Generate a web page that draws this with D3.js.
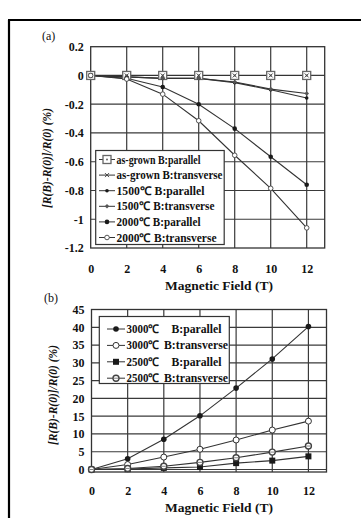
<!DOCTYPE html>
<html><head><meta charset="utf-8">
<script src="https://cdn.jsdelivr.net/npm/d3@7"></script>
<style>body{margin:0;background:#fff}svg{display:block}text{font-family:"Liberation Serif","Times New Roman",serif}</style>
</head><body><svg id="c" width="361" height="518"></svg>
<script>
const fieldValues = [0, 2, 4, 6, 8, 10, 12];
const xTickLabels = [0, 2, 4, 6, 8, 10, 12];

// Panel (a)
const seriesA = [
  {name: "as-grown B:parallel",   marker: "openSquare", values: [0, 0, 0, 0, 0, 0, 0]},
  {name: "as-grown B:transverse", marker: "cross",      values: [0, 0, 0, 0, 0, 0, 0]},
  {name: "1500\u2103   B:parallel",   marker: "smallDot",   values: [0, -0.01, -0.02, -0.02, -0.05, -0.1, -0.157]},
  {name: "1500\u2103 B:transverse", marker: "diamond",    values: [0, -0.01, -0.02, -0.02, -0.045, -0.095, -0.125]},
  {name: "2000\u2103 B:parallel",   marker: "dot",        values: [0, -0.02, -0.08, -0.2, -0.37, -0.565, -0.76]},
  {name: "2000\u2103 B:transverse", marker: "openCircle", values: [0, -0.025, -0.13, -0.315, -0.555, -0.785, -1.06]}
];
const yTicksA = [0.2, 0, -0.2, -0.4, -0.6, -0.8, -1, -1.2];

// Panel (b)
const seriesB = [
  {name1: "3000\u2103", name2: "B:parallel",   marker: "bigDot",     values: [0, 3.0, 8.5, 15.1, 22.9, 31.1, 40.2]},
  {name1: "3000\u2103", name2: "B:transverse", marker: "bigOpen",    values: [0, 1.4, 3.5, 5.7, 8.3, 11.1, 13.6]},
  {name1: "2500\u2103", name2: "B:parallel",   marker: "square",     values: [0, 0.1, 0.45, 0.7, 1.8, 2.5, 3.7]},
  {name1: "2500\u2103", name2: "B:transverse", marker: "ringOpen",   values: [0, 0.3, 0.9, 2.0, 3.3, 4.9, 6.6]}
];
const yTicksB = [45, 40, 35, 30, 25, 20, 15, 10, 5, 0];

const svg = d3.select("#c");
const INK = "#1a1a1a";
const FONT = "Liberation Serif";

svg.append("line").attr("x1", 9).attr("x2", 9).attr("y1", 20).attr("y2", 518).attr("stroke", "#000").attr("stroke-width", 2.2);
svg.append("line").attr("x1", 8).attr("x2", 361).attr("y1", 20).attr("y2", 20).attr("stroke", "#000").attr("stroke-width", 2.2);

function drawMarker(g, type, x, y) {
  switch (type) {
    case "openSquare":
      g.append("rect").attr("x", x - 4).attr("y", y - 4).attr("width", 8).attr("height", 8)
        .attr("fill", "#fff").attr("stroke", "#666").attr("stroke-width", 1.3);
      g.append("circle").attr("cx", x).attr("cy", y).attr("r", 1).attr("fill", "#666"); break;
    case "cross":
      g.append("path").attr("d", `M${x-2},${y-2}L${x+2},${y+2}M${x-2},${y+2}L${x+2},${y-2}`)
        .attr("stroke", "#444").attr("stroke-width", 1); break;
    case "smallDot":
      g.append("circle").attr("cx", x).attr("cy", y).attr("r", 1.8).attr("fill", INK); break;
    case "diamond":
      g.append("path").attr("d", `M${x},${y-2.3}L${x+2.3},${y}L${x},${y+2.3}L${x-2.3},${y}Z`).attr("fill", "#555"); break;
    case "dot":
      g.append("circle").attr("cx", x).attr("cy", y).attr("r", 2.3).attr("fill", INK); break;
    case "openCircle":
      g.append("circle").attr("cx", x).attr("cy", y).attr("r", 2.3).attr("fill", "#fff").attr("stroke", "#444").attr("stroke-width", 0.9); break;
    case "bigDot":
      g.append("circle").attr("cx", x).attr("cy", y).attr("r", 2.8).attr("fill", INK); break;
    case "bigOpen":
      g.append("circle").attr("cx", x).attr("cy", y).attr("r", 3).attr("fill", "#fff").attr("stroke", "#333").attr("stroke-width", 1); break;
    case "square":
      g.append("rect").attr("x", x - 3).attr("y", y - 3).attr("width", 6).attr("height", 6).attr("fill", INK); break;
    case "ringOpen":
      g.append("circle").attr("cx", x).attr("cy", y).attr("r", 3).attr("fill", "#fff").attr("stroke", "#444").attr("stroke-width", 1.4);
      g.append("line").attr("x1", x - 2).attr("x2", x + 2).attr("y1", y).attr("y2", y).attr("stroke", "#666").attr("stroke-width", 0.8); break;
  }
}

function panel(opts) {
  const x = d3.scaleLinear().domain([0, 13]).range([opts.left, opts.right]);
  const y = d3.scaleLinear().domain(opts.yDomain).range([opts.bottom, opts.top]);
  const g = svg.append("g");
  g.append("g").selectAll("line").data(xTickLabels.slice(1)).join("line")
    .attr("x1", d => x(d)).attr("x2", d => x(d)).attr("y1", opts.top).attr("y2", opts.bottom)
    .attr("stroke", "#3a3a3a").attr("stroke-width", 1.2);
  g.append("g").selectAll("line").data(opts.yGrid).join("line")
    .attr("x1", opts.left).attr("x2", opts.right).attr("y1", d => y(d)).attr("y2", d => y(d))
    .attr("stroke", "#3a3a3a").attr("stroke-width", 1.2);
  g.append("rect").attr("x", opts.left).attr("y", opts.top).attr("width", opts.right - opts.left)
    .attr("height", opts.bottom - opts.top).attr("fill", "none").attr("stroke", "#333").attr("stroke-width", 1.3);

  const yAxis = d3.axisLeft(y).tickValues(opts.yTicks).tickSize(0).tickPadding(7).tickFormat(d => String(d));
  const ya = g.append("g").attr("transform", `translate(${opts.left},0)`).call(yAxis);
  ya.attr("font-family", FONT);
  ya.select(".domain").remove();
  ya.selectAll("text").attr("font-family", FONT).attr("font-weight", "bold").attr("font-size", 12).attr("fill", "#111");
  const xAxis = d3.axisBottom(x).tickValues(xTickLabels).tickSize(0).tickPadding(opts.xPad).tickFormat(d => String(d));
  const xa = g.append("g").attr("transform", `translate(0,${opts.bottom})`).call(xAxis);
  xa.attr("font-family", FONT);
  xa.select(".domain").remove();
  xa.selectAll("text").attr("font-family", FONT).attr("font-weight", "bold").attr("font-size", 12).attr("fill", "#111");

  g.append("text").attr("x", 219).attr("y", opts.titleY).attr("text-anchor", "middle").attr("font-family", FONT)
    .attr("font-weight", "bold").attr("font-size", 13.5).attr("fill", "#111").text("Magnetic Field (T)");
  g.append("text").attr("transform", `translate(${opts.ylabX},${opts.ylabY}) rotate(-90)`).attr("text-anchor", "middle")
    .attr("font-family", FONT).attr("font-weight", "bold").attr("font-style", "italic").attr("font-size", 11.5).attr("fill", "#111")
    .text("[R(B)-R(0)]/R(0) (%)");
  g.append("text").attr("x", opts.tagX).attr("y", opts.tagY).attr("font-family", FONT).attr("font-size", 12).attr("fill", "#111").text(opts.tag);

  const line = d3.line().x((d, i) => x(fieldValues[i])).y(d => y(d));
  opts.series.forEach(s => {
    g.append("path").attr("d", line(s.values)).attr("fill", "none").attr("stroke", "#333").attr("stroke-width", 1.1);
  });
  opts.series.forEach(s => {
    const mg = g.append("g");
    s.values.forEach((v, i) => drawMarker(mg, s.marker, x(fieldValues[i]), y(v)));
  });
  return g;
}

panel({left: 90.7, right: 324.7, top: 46.7, bottom: 248, yDomain: [-1.2, 0.2], yTicks: yTicksA, yGrid: yTicksA.slice(1, -1),
  xPad: 16, titleY: 290, ylabX: 51, ylabY: 158, tag: "(a)", tagX: 42, tagY: 40, series: seriesA});
panel({left: 91.5, right: 326.5, top: 309.5, bottom: 472, yDomain: [-0.7, 45], yTicks: yTicksB, yGrid: yTicksB.slice(1),
  xPad: 14, titleY: 512, ylabX: 57, ylabY: 395, tag: "(b)", tagX: 44, tagY: 302, series: seriesB});

// Legend (a)
{
  const lg = svg.append("g");
  lg.append("rect").attr("x", 95.7).attr("y", 150.5).attr("width", 128.5).attr("height", 94)
    .attr("fill", "#fff").attr("stroke", "#333").attr("stroke-width", 1.2);
  seriesA.forEach((s, i) => {
    const yy = 159.5 + i * 15.6;
    lg.append("line").attr("x1", 99).attr("x2", 115).attr("y1", yy).attr("y2", yy).attr("stroke", "#333").attr("stroke-width", 1);
    drawMarker(lg, s.marker, 107, yy);
    lg.append("text").attr("x", 116.5).attr("y", yy + 4).attr("font-family", FONT).attr("font-weight", "bold")
      .attr("font-size", 11.8).attr("fill", "#111").attr("textLength", i === 0 ? 84 : (i === 1 ? 106 : (i === 2 ? 88 : (i === 3 ? 98 : (i === 4 ? 84 : 100)))))
      .attr("lengthAdjust", "spacingAndGlyphs").text(s.name);
  });
}
// Legend (b)
{
  const lg = svg.append("g");
  lg.append("rect").attr("x", 99.3).attr("y", 316.5).attr("width", 130).attr("height", 67)
    .attr("fill", "#fff").attr("stroke", "#333").attr("stroke-width", 1.2);
  seriesB.forEach((s, i) => {
    const yy = 329 + i * 16.4;
    lg.append("line").attr("x1", 107).attr("x2", 125).attr("y1", yy).attr("y2", yy).attr("stroke", "#333").attr("stroke-width", 1);
    drawMarker(lg, s.marker, 116, yy);
    lg.append("text").attr("x", 126.5).attr("y", yy + 4).attr("font-family", FONT).attr("font-weight", "bold")
      .attr("font-size", 11.8).attr("fill", "#111").attr("textLength", 33).attr("lengthAdjust", "spacingAndGlyphs").text(s.name1);
    lg.append("text").attr("x", i % 2 === 0 ? 171.5 : 164).attr("y", yy + 4).attr("font-family", FONT).attr("font-weight", "bold")
      .attr("font-size", 11.8).attr("fill", "#111").attr("textLength", i % 2 === 0 ? 50 : 64).attr("lengthAdjust", "spacingAndGlyphs").text(s.name2);
  });
}
</script></body></html>
